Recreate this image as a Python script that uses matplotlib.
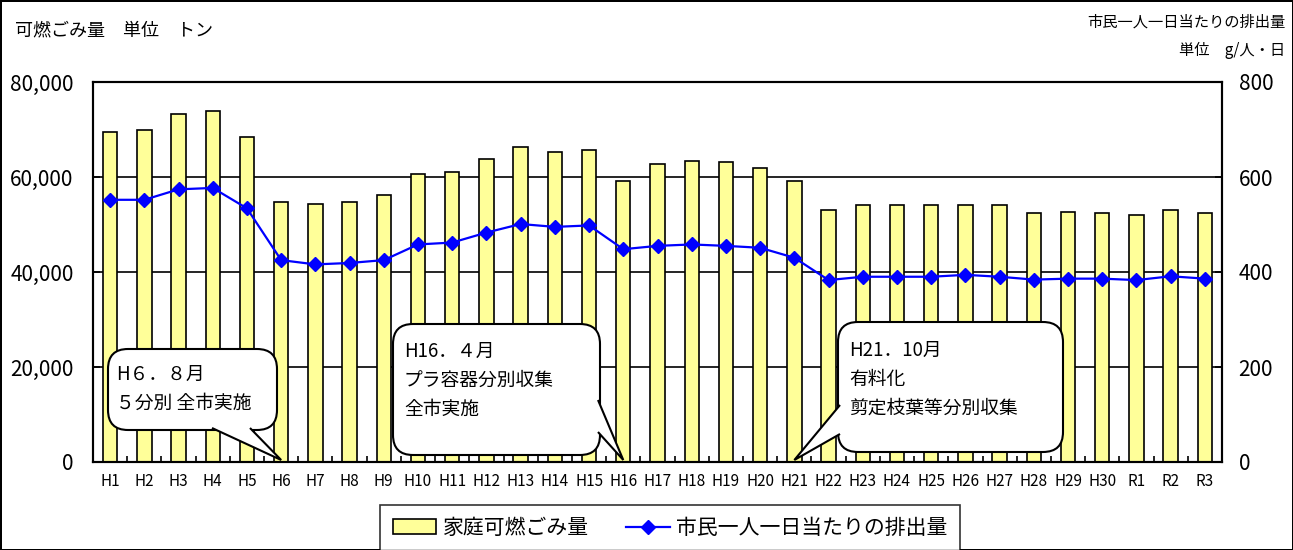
import matplotlib
matplotlib.use('Agg')
import matplotlib.pyplot as plt
from matplotlib.patches import FancyBboxPatch, Polygon
from matplotlib.ticker import FuncFormatter, MultipleLocator
import numpy as np

plt.rcParams['font.family'] = ['Noto Sans CJK JP', 'DejaVu Sans']

# data
years = ['H1', 'H2', 'H3', 'H4', 'H5', 'H6', 'H7', 'H8', 'H9', 'H10', 'H11',
         'H12', 'H13', 'H14', 'H15', 'H16', 'H17', 'H18', 'H19', 'H20', 'H21',
         'H22', 'H23', 'H24', 'H25', 'H26', 'H27', 'H28', 'H29', 'H30',
         'R1', 'R2', 'R3']
gomi = [69500, 70000, 73200, 73900, 68500, 54800, 54400, 54800, 56300, 60600,
        61000, 63800, 66300, 65300, 65600, 59200, 62700, 63400, 63100, 62000,
        59200, 53100, 54100, 54100, 54100, 54100, 54100, 52400, 52600, 52400,
        52000, 53100, 52400]
per_person = [552, 552, 574, 577, 534, 425, 416, 419, 425, 458, 462, 483,
              501, 495, 498, 448, 455, 458, 455, 451, 430, 383, 390, 390,
              390, 394, 390, 384, 386, 386, 383, 391, 386]

W, H = 1293, 550
fig = plt.figure(figsize=(W / 100, H / 100), dpi=100)
fig.patch.set_edgecolor('black')
fig.patch.set_linewidth(2)

ax = fig.add_axes([93 / W, (H - 462) / H, (1222 - 93) / W, 380 / H])
x = np.arange(len(years))

ax.set_axisbelow(True)
ax.grid(axis='y', color='black', linewidth=1.2)
bars = ax.bar(x, gomi, width=0.42, color='#FFFF99', edgecolor='black',
              linewidth=1.2, label='家庭可燃ごみ量', zorder=2)
ax.set_ylim(0, 80000)
ax.set_xlim(-0.5, len(years) - 0.5)
ax.yaxis.set_major_locator(MultipleLocator(20000))
ax.yaxis.set_major_formatter(FuncFormatter(lambda v, p: f'{int(v):,}'))
ax.set_xticks(x)
ax.set_xticklabels(years, fontsize=11)
ax.set_xticks(np.arange(-0.5, len(years)), minor=True)
ax.tick_params(axis='x', which='major', length=0, pad=8)
ax.tick_params(axis='x', which='minor', direction='in', length=4, width=1.2)
ax.tick_params(axis='y', direction='in', length=5, width=1.2, labelsize=15, pad=14)
for s in ax.spines.values():
    s.set_linewidth(1.5)

ax2 = ax.twinx()
line, = ax2.plot(x, per_person, color='#0000FF', linewidth=1.6, marker='D',
                 markersize=7, label='市民一人一日当たりの排出量', zorder=5)
ax2.set_ylim(0, 800)
ax2.yaxis.set_major_locator(MultipleLocator(200))
ax2.tick_params(axis='y', direction='in', length=5, width=1.2, labelsize=15, pad=12)
for s in ax2.spines.values():
    s.set_linewidth(1.5)

# headers
fig.text(15 / W, 1 - 30 / H, '可燃ごみ量　単位　トン', fontsize=13, va='center', ha='left')
fig.text(1285 / W, 1 - 22 / H, '市民一人一日当たりの排出量', fontsize=11, va='center', ha='right')
fig.text(1285 / W, 1 - 50 / H, '単位　g/人・日', fontsize=11, va='center', ha='right')


# callouts (pixel positions -> inches)
def px(xp, yp):
    return (xp / 100, (H - yp) / 100)


def callout(box, base, tip_i, lines, tx, ty):
    x0, y0, x1, y1 = box
    patch = FancyBboxPatch(px(x0, y1), (x1 - x0) / 100, (y1 - y0) / 100,
                           boxstyle='round,pad=0,rounding_size=0.2',
                           transform=fig.dpi_scale_trans, facecolor='white',
                           edgecolor='black', linewidth=1.5, zorder=10)
    fig.add_artist(patch)
    tip = ax.transData.transform((tip_i, 0))
    tip = (tip[0] / 100, tip[1] / 100 + 0.02)
    fill = Polygon([px(*base[0]), tip, px(*base[1])], closed=True,
                   transform=fig.dpi_scale_trans, facecolor='white',
                   edgecolor='none', zorder=10.5)
    fig.add_artist(fill)
    wedge = Polygon([px(*base[0]), tip, px(*base[1])], closed=False,
                    transform=fig.dpi_scale_trans, facecolor='none',
                    edgecolor='black', linewidth=1.5, zorder=11)
    fig.add_artist(wedge)
    for k, t in enumerate(lines):
        fig.text(tx / W, 1 - (ty + 29 * k) / H, t, fontsize=13.5, va='center',
                 ha='left', zorder=12)


callout((108, 349, 277, 430), [(212, 428), (250, 428)], 5,
        ['H６．８月', '５分別 全市実施'], 116, 374)
callout((393, 324, 600, 455), [(598, 400), (598, 432)], 15,
        ['H16．４月', 'プラ容器分別収集', '全市実施'], 404, 351)
callout((838, 322, 1063, 452), [(840, 405), (840, 434)], 20,
        ['H21．10月', '有料化', '剪定枝葉等分別収集'], 849, 350)

leg = fig.legend(handles=[bars, line], loc='center', ncol=2,
                 bbox_to_anchor=(670 / W, 1 - 528 / H), fontsize=15,
                 frameon=True, fancybox=False, edgecolor='black',
                 handlelength=2.1, handletextpad=0.3, columnspacing=1.8,
                 borderpad=0.6, borderaxespad=0)
leg.get_frame().set_linewidth(1.2)

fig.savefig('out.png', dpi=100)
